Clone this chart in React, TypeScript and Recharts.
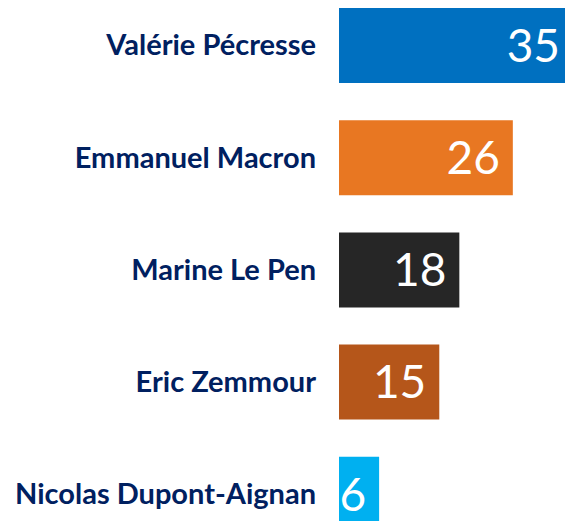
import { BarChart, Bar, XAxis, YAxis, Cell, LabelList } from 'recharts';

const candidates = ['Valérie Pécresse', 'Emmanuel Macron', 'Marine Le Pen', 'Eric Zemmour', 'Nicolas Dupont-Aignan'];
const scores = [35, 26, 18, 15, 6];
const barColors = ['#0070C0', '#E87722', '#262626', '#B5561A', '#00B0F0'];

const data = candidates.map((name, i) => ({ name, value: scores[i] }));

export default function App() {
  return (
    <div style={{ position: 'relative', width: 573, height: 529, overflow: 'hidden', margin: -8 }}>
      <div style={{ position: 'absolute', top: -11, left: 0 }}>
        <BarChart
          width={573}
          height={561}
          data={data}
          layout="vertical"
          margin={{ top: 0, right: 0, bottom: 0, left: 0 }}
          barSize={75}
        >
          <XAxis type="number" domain={[0, 35]} hide />
          <YAxis
            type="category"
            dataKey="name"
            width={339}
            axisLine={false}
            tickLine={false}
            tickSize={0}
            tickMargin={23}
            interval={0}
            tick={{ fontSize: 29, fontWeight: 700, fill: '#002060', fontFamily: 'Lato' }}
          />
          <Bar dataKey="value" isAnimationActive={false}>
            {data.map((d, i) => (
              <Cell key={d.name} fill={barColors[i]} />
            ))}
            <LabelList
              dataKey="value"
              position="insideRight"
              offset={13}
              fill="#FFFFFF"
              style={{ fontSize: 46, fontFamily: 'Lato', fontWeight: 400 }}
            />
          </Bar>
        </BarChart>
      </div>
    </div>
  );
}
